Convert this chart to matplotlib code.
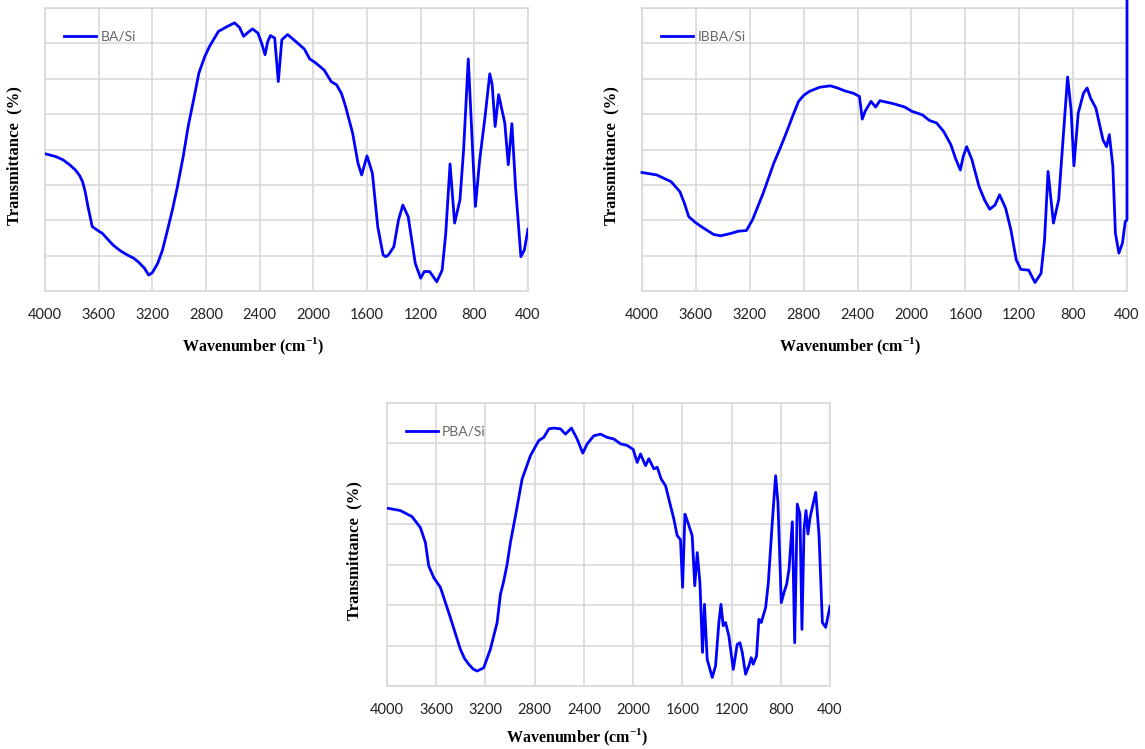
import numpy as np
import matplotlib
matplotlib.use("Agg")
import matplotlib.pyplot as plt

plt.rcParams["mathtext.fontset"] = "custom"
plt.rcParams["mathtext.rm"] = "Liberation Serif:bold"
plt.rcParams["mathtext.bf"] = "Liberation Serif:bold"

# ---- spectra (y in grid units, bottom = 0) ----
ba_wn = [4000, 3920, 3867, 3820, 3773, 3740, 3720, 3700, 3680, 3648, 3610, 3573, 3493,
         3440, 3387, 3340, 3307, 3260, 3227, 3200, 3160, 3125,
         3093, 3050, 3013, 2970, 2933, 2890, 2853, 2810, 2773, 2707, 2640, 2587, 2550,
         2520, 2490, 2453, 2413, 2385, 2360, 2340,
         2320, 2288, 2261, 2235, 2192, 2133, 2067, 2027, 1987, 1920, 1867, 1827,
         1790, 1760, 1707, 1667, 1640, 1600, 1560, 1520, 1480, 1460, 1440, 1400, 1365, 1333,
         1293, 1240, 1200, 1173, 1133, 1080, 1040, 1013, 981, 947, 907, 880, 845,
         813, 792, 760, 720, 685, 667, 645, 619, 573, 547, 520, 493, 453, 427, 400]
ba_t = [3.88, 3.80, 3.71, 3.58, 3.42, 3.25, 3.09, 2.80, 2.39, 1.82, 1.72, 1.63, 1.30,
        1.14, 1.02, 0.93, 0.83, 0.65, 0.45, 0.52, 0.78, 1.15,
        1.63, 2.30, 2.95, 3.80, 4.65, 5.45, 6.16, 6.62, 6.92, 7.34, 7.48, 7.58, 7.45,
        7.20, 7.30, 7.41, 7.29, 7.00, 6.68, 7.05,
        7.22, 7.15, 5.92, 7.10, 7.25, 7.06, 6.84, 6.56, 6.46, 6.25, 5.92, 5.83,
        5.58, 5.22, 4.46, 3.61, 3.28, 3.82, 3.33, 1.82, 1.02, 0.97, 1.02, 1.25, 2.01, 2.43,
        2.10, 0.78, 0.36, 0.55, 0.55, 0.26, 0.59, 1.63, 3.59, 1.92, 2.58, 3.99, 6.56,
        3.99, 2.39, 3.71, 4.93, 6.14, 5.83, 4.65, 5.55, 4.75, 3.57, 4.73, 2.95, 0.97, 1.16, 1.75]

ibba_wn = [4000, 3890, 3784, 3719, 3685, 3653, 3601, 3548, 3469, 3417, 3338, 3285,
           3225, 3180, 3101, 3022, 2970, 2930, 2878, 2838, 2800, 2759, 2681, 2602, 2549,
           2497, 2431, 2386, 2365, 2344, 2300, 2266, 2234, 2129, 2050, 1997, 1919,
           1866, 1813, 1761, 1708, 1669, 1637, 1616, 1590, 1551, 1498, 1458, 1419,
           1380, 1346, 1301, 1262, 1222, 1188, 1130, 1083, 1038, 1012, 986, 946, 907,
           875, 841, 815, 794, 762, 723, 696, 670, 631, 578, 552, 531, 505, 486, 460,
           434, 413, 400, 400]
ibba_t = [3.35, 3.28, 3.09, 2.81, 2.48, 2.10, 1.93, 1.79, 1.60, 1.56, 1.63, 1.69,
          1.71, 2.01, 2.76, 3.61, 4.08, 4.46, 4.98, 5.36, 5.53, 5.64, 5.76, 5.80, 5.74,
          5.66, 5.59, 5.50, 4.86, 5.08, 5.36, 5.20, 5.38, 5.29, 5.20, 5.08, 4.98,
          4.82, 4.75, 4.51, 4.14, 3.71, 3.42, 3.80, 4.08, 3.71, 2.95, 2.58, 2.31,
          2.43, 2.72, 2.34, 1.73, 0.88, 0.61, 0.59, 0.24, 0.50, 1.44, 3.38, 1.92, 2.58,
          4.27, 6.05, 5.12, 3.54, 5.03, 5.59, 5.74, 5.45, 5.17, 4.27, 4.08, 4.42, 3.52, 1.63, 1.07,
          1.35, 1.96, 2.01, 8.25]

pba_wn = [4000, 3892, 3797, 3729, 3688, 3661, 3620, 3566, 3485, 3404, 3370, 3336, 3300, 3268,
          3214, 3160, 3105, 3078, 3051, 3024, 2997, 2956, 2902, 2834, 2767, 2726,
          2685, 2644, 2590, 2550, 2501, 2455, 2409, 2373, 2319, 2265, 2211, 2157,
          2102, 2048, 1999, 1967, 1940, 1899, 1872, 1831, 1804, 1772, 1736, 1696,
          1669, 1642, 1615, 1598, 1579, 1560, 1520, 1499, 1479, 1457, 1436, 1420,
          1398, 1357, 1330, 1303, 1286, 1268, 1249, 1222, 1186, 1154, 1132, 1113,
          1086, 1059, 1040, 1024, 997, 978, 959, 923, 901, 869, 842, 823, 796, 774,
          752, 733, 706, 687, 666, 644, 628, 611, 595, 579, 562, 516, 489, 462, 435, 400]
pba_t = [4.40, 4.34, 4.19, 3.92, 3.55, 2.97, 2.68, 2.44, 1.69, 0.91, 0.68, 0.54, 0.42, 0.37,
         0.45, 0.91, 1.57, 2.27, 2.60, 3.01, 3.55, 4.21, 5.12, 5.70, 6.07, 6.15,
         6.36, 6.38, 6.36, 6.23, 6.38, 6.11, 5.76, 5.99, 6.19, 6.23, 6.15, 6.11,
         5.99, 5.95, 5.85, 5.53, 5.74, 5.45, 5.62, 5.37, 5.41, 5.12, 4.95, 4.46,
         4.13, 3.72, 3.62, 2.44, 4.25, 4.09, 3.72, 2.48, 3.30, 2.56, 0.83, 2.02,
         0.66, 0.21, 0.50, 1.57, 2.02, 1.49, 1.57, 1.24, 0.41, 1.03, 1.07, 0.83,
         0.29, 0.50, 0.70, 0.54, 0.74, 1.65, 1.57, 1.94, 2.56, 4.05, 5.20, 4.54, 2.06, 2.31,
         2.52, 2.89, 4.06, 1.07, 4.50, 4.25, 1.40, 3.88, 4.34, 3.76, 4.17, 4.79, 3.72, 1.57, 1.45, 1.97]

xticks = list(range(4000, 399, -400))

W, H = 1145, 749
fig = plt.figure(figsize=(W / 100, H / 100), dpi=100)


def px_axes(left, top, right, bottom):
    return fig.add_axes([left / W, 1 - bottom / H, (right - left) / W, (bottom - top) / H])


def draw_panel(ax, wn, t, label, ngrid, clip=True):
    ax.plot(wn, t, color="#0000ff", lw=2.0, label=label, clip_on=clip, zorder=3,
            solid_joinstyle="round")
    ax.set_xlim(4000, 400)
    ax.set_ylim(0, ngrid)
    ax.set_xticks(xticks)
    ax.set_yticks(range(ngrid + 1))
    ax.set_yticklabels([])
    ax.grid(True, color="#d9d9d9", lw=1.2)
    ax.set_axisbelow(True)
    ax.tick_params(length=0, pad=12)
    for lbl in ax.get_xticklabels():
        lbl.set_fontfamily("Lato")
        lbl.set_fontsize(10.5)
        lbl.set_color("#222222")
    for s in ax.spines.values():
        s.set_color("#d9d9d9")
        s.set_linewidth(1.2)
    ax.set_xlabel(r"Wavenumber (cm$^{-1}$)", fontfamily="Liberation Serif",
                  fontweight="bold", fontsize=11.5)
    ax.xaxis.set_label_coords(0.43, -0.16)
    ax.set_ylabel("Transmittance  (%)", fontfamily="Liberation Serif",
                  fontweight="bold", fontsize=12)
    ax.yaxis.set_label_coords(-0.047, 0.48)
    leg = ax.legend(loc="upper left", bbox_to_anchor=(0.02, 0.955), frameon=False,
                    handlelength=2.3, handletextpad=0.3, borderaxespad=0.3,
                    prop={"family": "Lato", "size": 10})
    for txt in leg.get_texts():
        txt.set_color("#666666")


ax1 = px_axes(45, 8, 528, 291)
draw_panel(ax1, ba_wn, ba_t, "BA/Si", 8)

ax2 = px_axes(642, 8, 1127, 291)
draw_panel(ax2, ibba_wn, ibba_t, "IBBA/Si", 8, clip=False)

ax3 = px_axes(387, 403, 830, 686)
draw_panel(ax3, pba_wn, pba_t, "PBA/Si", 7)
ax3.yaxis.set_label_coords(-0.055, 0.48)
ax3.xaxis.set_label_coords(0.43, -0.145)

fig.savefig("out.png", dpi=100, facecolor="white")
